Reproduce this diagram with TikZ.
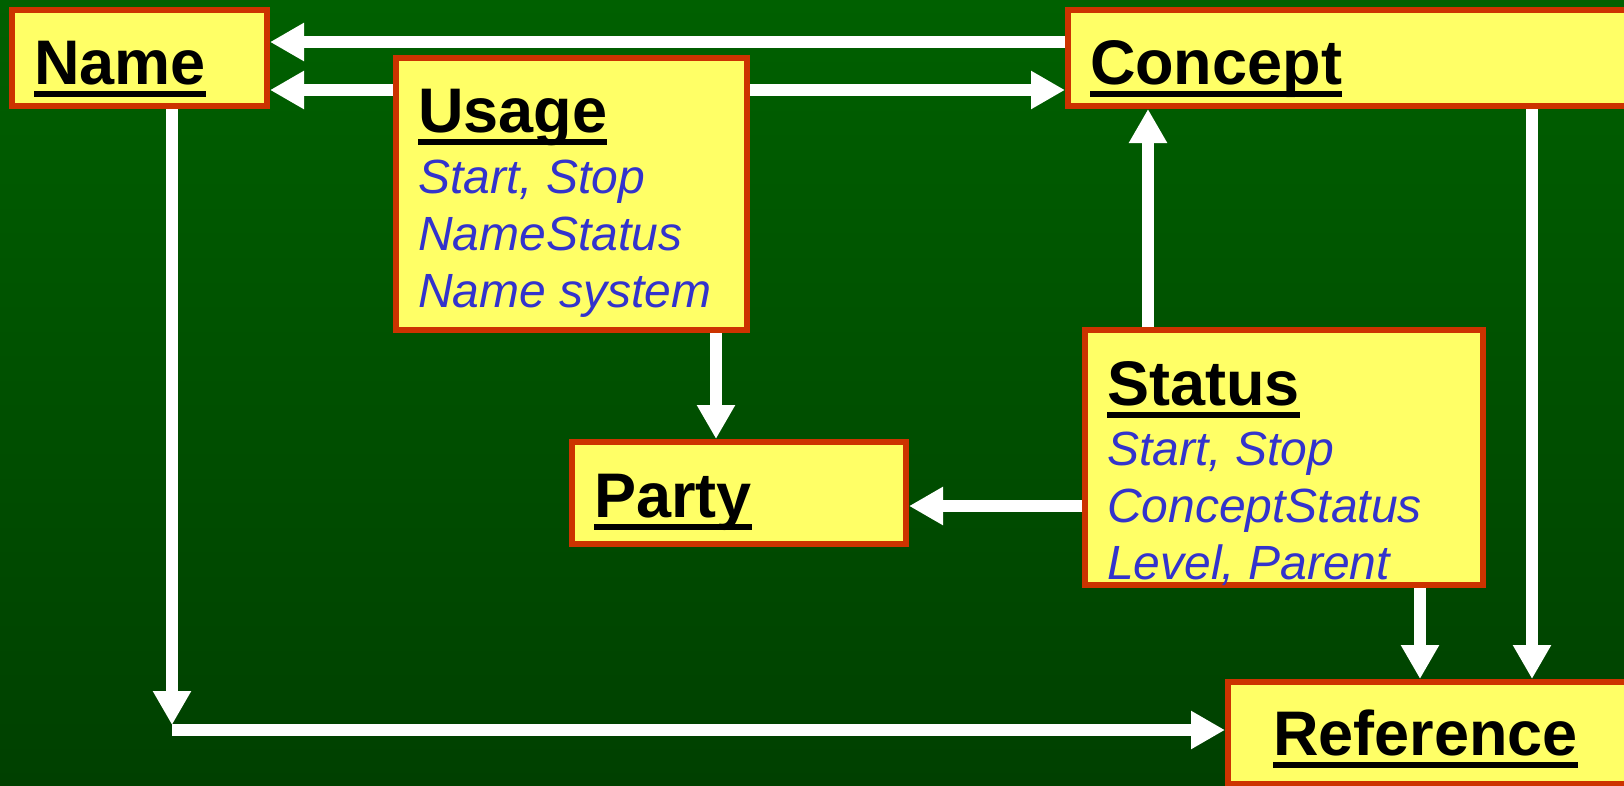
\documentclass[tikz,border=0pt]{standalone}
\usepackage{fontspec}
\setmainfont{Liberation Sans}
\usetikzlibrary{arrows.meta}
\definecolor{boxfill}{RGB}{255,255,102}
\definecolor{boxline}{RGB}{204,51,0}
\definecolor{itemblue}{RGB}{51,51,204}
\definecolor{bgtop}{RGB}{0,96,0}
\definecolor{bgbottom}{RGB}{0,64,0}
\newsavebox{\titlebox}
\newcommand{\titleline}[1]{\sbox{\titlebox}{#1}\rlap{\rule[-13pt]{\wd\titlebox}{6pt}}\usebox{\titlebox}}
\newcommand{\items}{\fontsize{48pt}{57pt}\selectfont\mdseries\itshape\color{itemblue}}
\tikzset{
  entity/.style={draw=boxline, fill=boxfill, line width=6pt, outer sep=3pt,
    anchor=base west, inner xsep=22pt, inner ysep=0pt, align=flush left, text=black,
    font=\fontsize{63pt}{57pt}\selectfont\bfseries},
  link/.style={draw=white, line width=12pt, -{Triangle[length=34pt,width=36pt]}}
}
\begin{document}
\begin{tikzpicture}[x=1pt,y=-1pt]
% Background
        \useasboundingbox (0,0) rectangle (1624,785);
        \shade[top color=bgtop, bottom color=bgbottom] (0,0) rectangle (1624,785);
% Draw the boxes
        \node[entity, text width=211pt, text height=74pt, text depth=22pt] (name) at (9,84) {\titleline{Name}};
        \node[entity, text width=307pt, text height=74pt, text depth=198pt] (usage) at (393,132)
          {\titleline{Usage}\\[4pt]{\items Start, Stop\\NameStatus\\Name system}};
        \node[entity, text width=538pt, text height=74pt, text depth=22pt] (concept) at (1065,84) {\titleline{Concept}};
        \node[entity, text width=290pt, text height=75pt, text depth=27pt] (party) at (569,517) {\titleline{Party}};
        \node[entity, text width=354pt, text height=75pt, text depth=180pt] (status) at (1082,405)
          {\titleline{Status}\\[3pt]{\items Start, Stop\\ConceptStatus\\Level, Parent}};
        \node[entity, inner xsep=45pt, text width=332pt, text height=73pt, text depth=29pt] (reference) at (1225,755) {\titleline{Reference}};
% Rows and columns of the arrows
        \coordinate (row1) at (0,42);
        \coordinate (row2) at (0,90);
        \coordinate (row3) at (0,506);
        \coordinate (col1) at (716,0);
        \coordinate (col2) at (1148,0);
        \coordinate (col3) at (1420,0);
        \coordinate (col4) at (1532,0);
        \coordinate (bend) at (172,730);
% Draw arrows
        \draw[link] (concept.west |- row1) -- (name.east |- row1);
        \draw[link] (usage.west |- row2) -- (name.east |- row2);
        \draw[link] (usage.east |- row2) -- (concept.west |- row2);
        \draw[link] (usage.south -| col1) -- (party.north -| col1);
        \draw[link] (status.north -| col2) -- (concept.south -| col2);
        \draw[link] (status.west |- row3) -- (party.east |- row3);
        \draw[link] (status.south -| col3) -- (reference.north -| col3);
        \draw[link] (concept.south -| col4) -- (reference.north -| col4);
        \draw[link] (name.south -| bend) -- ([yshift=5pt]bend);
        \draw[link] (bend) -- (reference.west |- bend);
      \end{tikzpicture}
\end{document}
